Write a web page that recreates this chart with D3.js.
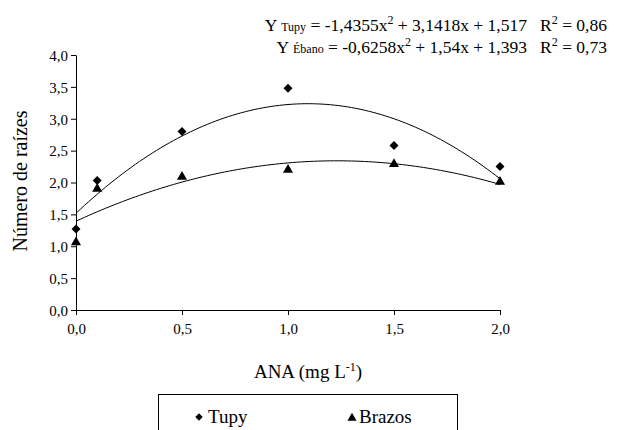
<!DOCTYPE html>
<html>
<head>
<meta charset="utf-8">
<script src="https://cdn.jsdelivr.net/npm/d3@7"></script>
<style>
  html, body { margin: 0; padding: 0; background: #fff; }
  svg { display: block; }
</style>
</head>
<body>
<svg id="chart" width="618" height="430"></svg>
<script>
// ANA concentrations (mg L-1)
const doses = [0, 0.1, 0.5, 1.0, 1.5, 2.0];
// Mean number of roots per cultivar
const tupyValues = [1.27, 2.03, 2.80, 3.48, 2.58, 2.25];
const brazosValues = [1.06, 1.90, 2.09, 2.20, 2.29, 2.01];
// Fitted quadratic coefficients [a, b, c] for y = a x^2 + b x + c
const tupyFit = [-1.4355, 3.1418, 1.517];
const ebanoFit = [-0.6258, 1.54, 1.393];
const yTicks = [0, 0.5, 1, 1.5, 2, 2.5, 3, 3.5, 4];
const xTicks = [0, 0.5, 1, 1.5, 2];

const svg = d3.select("#chart");
const x = d3.scaleLinear().domain([0, 2]).range([76, 500]);
const y = d3.scaleLinear().domain([0, 4]).range([310, 55]);
const fmt = v => d3.format(".1f")(v).replace(".", ",");
const comma = v => String(v).replace(".", ",");

// every label is set in a Times-like serif
function label(sel, size) {
  return sel.style("font-family", "'Times New Roman'").style("font-size", size + "px").attr("fill", "#000");
}

// Axes
const yAxis = d3.axisLeft(y).tickValues(yTicks).tickFormat(fmt).tickSize(5).tickSizeOuter(0);
const xAxis = d3.axisBottom(x).tickValues(xTicks).tickFormat(fmt).tickSize(5).tickSizeOuter(0);

const gy = svg.append("g").attr("transform", `translate(${x(0)},0)`).call(yAxis);
const gx = svg.append("g").attr("transform", `translate(0,${y(0)})`).call(xAxis);
[gy, gx].forEach(g => {
  g.attr("font-size", null).attr("font-family", null);
  g.select(".domain").attr("stroke", "#000").attr("stroke-width", 1);
  g.selectAll(".tick line").attr("stroke", "#000");
  label(g.selectAll(".tick text"), 15);
});
gy.selectAll(".tick text").attr("x", -8).attr("dy", "0.35em");
gx.selectAll(".tick text").attr("y", 13).attr("dy", "0.71em");

// Axis titles
label(svg.append("text"), 20)
  .attr("transform", `translate(27,181) rotate(-90)`)
  .attr("text-anchor", "middle")
  .text("Número de raízes");

const xt = label(svg.append("text"), 19)
  .attr("x", 308).attr("y", 378).attr("text-anchor", "middle");
xt.append("tspan").text("ANA (mg L");
xt.append("tspan").attr("dy", -7).style("font-size", "12px").text("-1");
xt.append("tspan").attr("dy", 7).text(")");

// Fitted curves
const quad = c => v => c[0] * v * v + c[1] * v + c[2];
const xs = d3.range(0, 2.0001, 0.02);
const line = f => d3.line().x(d => x(d)).y(d => y(f(d)));
[tupyFit, ebanoFit].forEach(c => {
  svg.append("path").datum(xs).attr("d", line(quad(c)))
    .attr("fill", "none").attr("stroke", "#000").attr("stroke-width", 1);
});

// Observed points
const diamond = d3.symbol().type(d3.symbolDiamond2).size(52);
const triangle = d3.symbol().type(d3.symbolTriangle).size(44);
svg.append("g").selectAll("path").data(doses).join("path")
  .attr("transform", (d, i) => `translate(${x(d)},${y(tupyValues[i])})`)
  .attr("d", diamond).attr("fill", "#000");
svg.append("g").selectAll("path").data(doses).join("path")
  .attr("transform", (d, i) => `translate(${x(d)},${y(brazosValues[i])})`)
  .attr("d", triangle).attr("fill", "#000");

// Regression equations
function equation(yPos, name, c, r2) {
  const t = label(svg.append("text"), 17.5).attr("x", 607).attr("y", yPos)
    .attr("text-anchor", "end").style("white-space", "pre");
  t.append("tspan").text("Y ");
  t.append("tspan").style("font-size", "12px").text(name);
  t.append("tspan").text(` = ${comma(c[0])}x`);
  t.append("tspan").attr("dy", -7).style("font-size", "12px").text("2");
  t.append("tspan").attr("dy", 7).text(` + ${comma(c[1])}x + ${comma(c[2])}   R`);
  t.append("tspan").attr("dy", -7).style("font-size", "12px").text("2");
  t.append("tspan").attr("dy", 7).text(` = ${r2}`);
}
equation(31, "Tupy", tupyFit, "0,86");
equation(53, "Ébano", ebanoFit, "0,73");

// Legend
const legendDiamond = d3.symbol().type(d3.symbolDiamond2).size(36);
const legendTriangle = d3.symbol().type(d3.symbolTriangle).size(36);
svg.append("rect").attr("x", 158.5).attr("y", 394.5).attr("width", 299).attr("height", 50)
  .attr("fill", "none").attr("stroke", "#000").attr("stroke-width", 1);
svg.append("path").attr("transform", "translate(199,417)").attr("d", legendDiamond).attr("fill", "#000");
label(svg.append("text"), 19).attr("x", 208).attr("y", 423).text("Tupy");
svg.append("path").attr("transform", "translate(352,418)").attr("d", legendTriangle).attr("fill", "#000");
label(svg.append("text"), 19).attr("x", 359).attr("y", 423).text("Brazos");
</script>
</body>
</html>
